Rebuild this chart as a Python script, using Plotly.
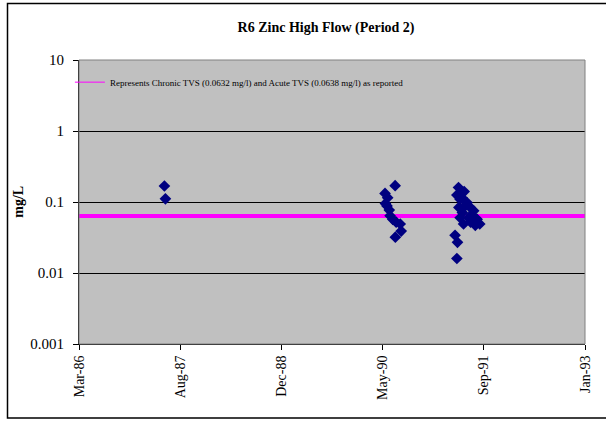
"""R6 Zinc high flow scatter, period 2."""
import plotly.graph_objects as go

# sampling dates and zinc concentrations (mg/L)
dates = [
    "1987-05-21", "1987-05-26",
    "1990-05-15", "1990-05-25", "1990-05-28", "1990-06-05", "1990-06-09",
    "1990-06-22", "1990-07-04", "1990-07-05", "1990-07-09", "1990-07-29",
    "1990-08-03", "1990-05-17",
    "1991-04-26", "1991-05-05", "1991-05-05", "1991-05-08", "1991-05-13",
    "1991-05-15", "1991-05-21", "1991-05-21", "1991-05-30", "1991-06-01",
    "1991-06-07", "1991-06-10", "1991-06-15", "1991-06-24", "1991-07-02",
    "1991-07-10", "1991-07-12", "1991-07-18", "1991-07-27", "1991-08-04",
    "1991-08-13", "1991-08-26",
]
zinc = [
    0.168, 0.111,
    0.132, 0.088, 0.115, 0.077, 0.064,
    0.057, 0.17, 0.032, 0.052, 0.049,
    0.039, 0.095,
    0.034, 0.125, 0.016, 0.027, 0.16,
    0.084, 0.06, 0.109, 0.115, 0.071,
    0.049, 0.14, 0.088, 0.098, 0.06,
    0.084, 0.052, 0.066, 0.075, 0.047,
    0.057, 0.049,
]

chronic_tvs = 0.0632
acute_tvs = 0.0638

x_start, x_end = "1986-03-25", "1993-01-27"
y_ticks = [10, 1, 0.1, 0.01, 0.001]
y_tick_text = ["10", "1", "0.1", "0.01", "0.001"]

SERIF = "Liberation Serif, Times New Roman, serif"

fig = go.Figure()

for tvs in (chronic_tvs, acute_tvs):
    fig.add_trace(go.Scatter(
        x=[x_start, x_end], y=[tvs, tvs], mode="lines",
        line=dict(color="#FF00FF", width=3.5),
        showlegend=False, hoverinfo="skip",
    ))

fig.add_trace(go.Scatter(
    x=dates, y=zinc, mode="markers",
    marker=dict(symbol="diamond", size=9, color="#000080"),
    showlegend=False,
))

# legend entry (thin sample line, like the original)
fig.add_trace(go.Scatter(
    x=[None, None], y=[None, None], mode="lines",
    line=dict(color="#FF00FF", width=1),
    name="Represents Chronic TVS (0.0632 mg/l) and Acute TVS (0.0638 mg/l) as reported",
))

fig.update_layout(
    width=606, height=425,
    margin=dict(l=79, r=21, t=60, b=81),
    paper_bgcolor="white",
    plot_bgcolor="#C0C0C0",
    font=dict(family=SERIF, color="black"),
    title=dict(
        text="<b>R6 Zinc High Flow (Period 2)</b>",
        x=0.538, xref="container", xanchor="center",
        y=0.936, yref="container", yanchor="middle",
        font=dict(size=14, family=SERIF),
    ),
    legend=dict(
        x=-0.018, xanchor="left", y=0.922, yanchor="middle",
        bgcolor="rgba(0,0,0,0)", font=dict(size=9, family=SERIF),
        itemwidth=30,
    ),
    showlegend=True,
)

fig.update_xaxes(
    type="date", range=[x_start, x_end], automargin=False,
    tick0=x_start, dtick=500 * 86400000, tickformat="%b-%y",
    tickangle=-90, ticks="outside", ticklen=5, tickcolor="black",
    tickfont=dict(size=14, family=SERIF),
    showgrid=False, showline=True, linecolor="black", linewidth=1,
    zeroline=False,
)
fig.update_yaxes(
    type="log", range=[-3, 1], automargin=False,
    tickvals=y_ticks, ticktext=y_tick_text,
    ticks="outside", ticklen=5, tickcolor="black", ticklabelstandoff=6,
    tickfont=dict(size=15, family=SERIF),
    showgrid=True, gridcolor="black", gridwidth=1,
    showline=True, linecolor="black", linewidth=1,
)

# y axis title placed by hand
fig.add_annotation(
    text="<b>mg/L</b>", textangle=-90, showarrow=False,
    xref="paper", yref="paper", x=-0.121, y=0.5,
    xanchor="center", yanchor="middle",
    font=dict(size=14, family=SERIF),
)

# plot area frame and outer chart border
fig.add_shape(type="rect", xref="paper", yref="paper", x0=0, x1=1, y0=0, y1=1,
              line=dict(color="#808080", width=1), layer="above")
fig.add_shape(type="rect", xref="paper", yref="paper",
              x0=-0.1413, x1=1.045, y0=-0.2606, y1=1.199,
              line=dict(color="black", width=1.5))

fig.write_html("out.html", config={"displayModeBar": False},
               post_script="document.body.style.margin='0';")
